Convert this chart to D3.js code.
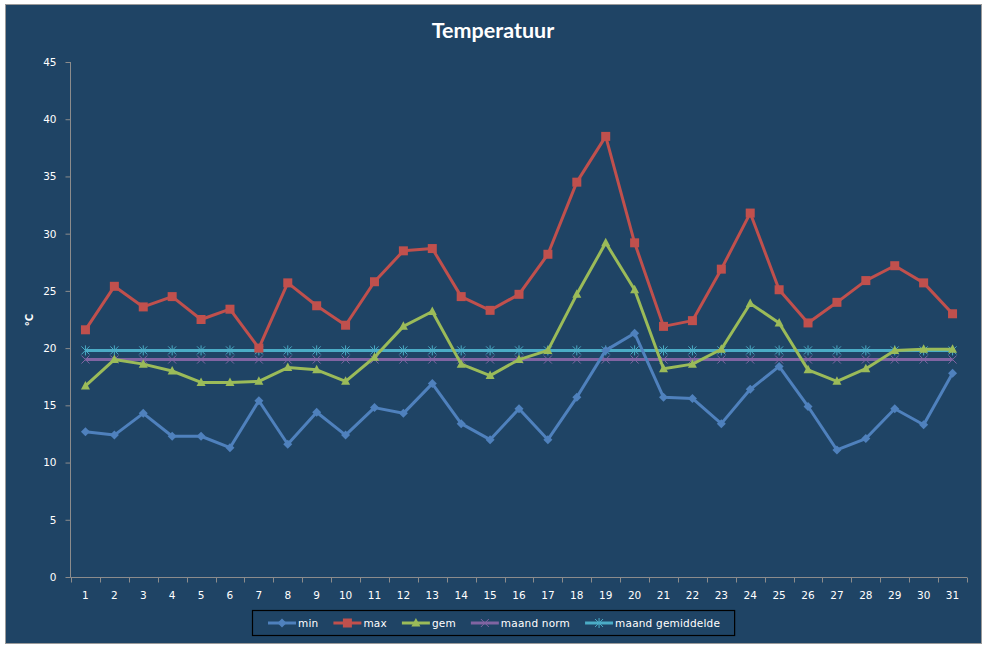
<!DOCTYPE html>
<html>
<head>
<meta charset="utf-8">
<script src="https://cdn.jsdelivr.net/npm/d3@7"></script>
<style>
  body { margin: 0; background: #ffffff; }
  svg { display: block; }
  .tick text { fill: #ffffff; font-family: "DejaVu Sans", Verdana, sans-serif; font-size: 10.5px; }
</style>
</head>
<body>
<svg id="chart" width="987" height="648"></svg>
<script>
// day numbers on the x axis
const days = [1,2,3,4,5,6,7,8,9,10,11,12,13,14,15,16,17,18,19,20,21,22,23,24,25,26,27,28,29,30,31];

// daily values (°C)
const minTemp = [12.7,12.4,14.3,12.3,12.3,11.3,15.4,11.6,14.4,12.4,14.8,14.3,16.9,13.4,12.0,14.7,12.0,15.7,19.8,21.3,15.7,15.6,13.4,16.4,18.4,14.9,11.1,12.1,14.7,13.3,17.8];
const maxTemp = [21.6,25.4,23.6,24.5,22.5,23.4,20.0,25.7,23.7,22.0,25.8,28.5,28.7,24.5,23.3,24.7,28.2,34.5,38.5,29.2,21.9,22.4,26.9,31.8,25.1,22.2,24.0,25.9,27.2,25.7,23.0];
const gemTemp = [16.7,19.0,18.6,18.0,17.0,17.0,17.1,18.3,18.1,17.1,19.2,21.9,23.2,18.6,17.6,19.0,19.8,24.7,29.2,25.1,18.2,18.6,19.9,23.9,22.2,18.1,17.1,18.2,19.8,19.9,19.9];
const maandNorm = [19.0,19.0,19.0,19.0,19.0,19.0,19.0,19.0,19.0,19.0,19.0,19.0,19.0,19.0,19.0,19.0,19.0,19.0,19.0,19.0,19.0,19.0,19.0,19.0,19.0,19.0,19.0,19.0,19.0,19.0,19.0];
const maandGem = [19.8,19.8,19.8,19.8,19.8,19.8,19.8,19.8,19.8,19.8,19.8,19.8,19.8,19.8,19.8,19.8,19.8,19.8,19.8,19.8,19.8,19.8,19.8,19.8,19.8,19.8,19.8,19.8,19.8,19.8,19.8];

// y tick labels
const yTicks = [0,5,10,15,20,25,30,35,40,45];

const seriesNames = ["min", "max", "gem", "maand norm", "maand gemiddelde"];
const seriesColors = ["#4f81bd", "#c0504d", "#9bbb59", "#8064a2", "#4bacc6"];
const seriesMarkers = ["diamond", "square", "triangle", "cross", "star"];
const seriesValues = [minTemp, maxTemp, gemTemp, maandNorm, maandGem];

const svg = d3.select("#chart");
const BG = "#1f4465";
const AXIS = "#8c8c8c";

// chart area background with thin grey border
svg.append("rect")
    .attr("x", 5.5).attr("y", 4.5)
    .attr("width", 976).attr("height", 639)
    .attr("fill", BG)
    .attr("stroke", "#9a9a9a")
    .attr("stroke-width", 1);

const plot = {left: 71, right: 967, top: 62, bottom: 577};

const x = d3.scaleBand()
    .domain(days)
    .range([plot.left, plot.right]);

const y = d3.scaleLinear()
    .domain([0, 45])
    .range([plot.bottom, plot.top]);

// title
svg.append("text")
    .attr("x", 493).attr("y", 38)
    .attr("text-anchor", "middle")
    .attr("fill", "#ffffff")
    .style("font-family", "Lato, 'Open Sans', sans-serif")
    .style("font-weight", "bold")
    .style("font-size", "21.5px")
    .text("Temperatuur");

// y axis title
svg.append("text")
    .attr("transform", "translate(33,320) rotate(-90)")
    .attr("text-anchor", "middle")
    .attr("fill", "#ffffff")
    .style("font-family", "'DejaVu Sans', sans-serif")
    .style("font-weight", "bold")
    .style("font-size", "10px")
    .text("°C");

// y axis
const yAxis = svg.append("g")
    .attr("transform", `translate(${plot.left - 0.5},0)`)
    .call(d3.axisLeft(y).tickValues(yTicks).tickSize(5).tickPadding(9));

// x axis: ticks sit between the categories
const xAxis = svg.append("g")
    .attr("transform", `translate(0,${plot.bottom + 0.5})`)
    .call(d3.axisBottom(x).tickSize(0).tickPadding(14));

const boundaries = d3.range(days.length + 1).map(i => plot.left + i * x.step());
xAxis.selectAll(".boundary")
    .data(boundaries)
    .enter()
    .append("line")
    .attr("class", "boundary")
    .attr("x1", d => Math.round(d) + 0.5)
    .attr("x2", d => Math.round(d) + 0.5)
    .attr("y1", 0)
    .attr("y2", 5)
    .attr("stroke", AXIS);

yAxis.selectAll(".tick line").attr("stroke", AXIS);
yAxis.select(".domain").remove();
xAxis.select(".domain").remove();
svg.append("line")
    .attr("x1", plot.left - 0.5).attr("x2", plot.left - 0.5)
    .attr("y1", plot.top).attr("y2", plot.bottom + 0.5)
    .attr("stroke", AXIS);
svg.append("line")
    .attr("x1", plot.left - 0.5).attr("x2", plot.right)
    .attr("y1", plot.bottom + 0.5).attr("y2", plot.bottom + 0.5)
    .attr("stroke", AXIS);

/**
 * Appends one marker shape centred at (cx, cy)
 */
function drawMarker(g, type, cx, cy, color){
    if (type === "diamond") {
        g.append("path")
            .attr("d", `M${cx},${cy-4.5} L${cx+4.5},${cy} L${cx},${cy+4.5} L${cx-4.5},${cy} Z`)
            .attr("fill", color);
    } else if (type === "square") {
        g.append("rect")
            .attr("x", cx - 4.5).attr("y", cy - 4.5)
            .attr("width", 9).attr("height", 9)
            .attr("fill", color);
    } else if (type === "triangle") {
        g.append("path")
            .attr("d", `M${cx},${cy-5} L${cx+4.5},${cy+3.5} L${cx-4.5},${cy+3.5} Z`)
            .attr("fill", color);
    } else if (type === "cross") {
        g.append("path")
            .attr("d", `M${cx-4},${cy-4} L${cx+4},${cy+4} M${cx-4},${cy+4} L${cx+4},${cy-4}`)
            .attr("stroke", color).attr("stroke-width", 1).attr("fill", "none");
    } else if (type === "star") {
        g.append("path")
            .attr("d", `M${cx-4},${cy-4} L${cx+4},${cy+4} M${cx-4},${cy+4} L${cx+4},${cy-4} M${cx},${cy-5} L${cx},${cy+5}`)
            .attr("stroke", color).attr("stroke-width", 1).attr("fill", "none");
    }
}

const line = d3.line()
    .x((d, i) => x(days[i]) + x.bandwidth() / 2)
    .y(d => y(d));

// draw series back to front so min lies on top like the original
const order = [4, 3, 2, 1, 0];
order.forEach(function(s){
    const g = svg.append("g").attr("class", "series");
    g.append("path")
        .datum(seriesValues[s])
        .attr("d", line)
        .attr("fill", "none")
        .attr("stroke", seriesColors[s])
        .attr("stroke-width", 3)
        .attr("stroke-linejoin", "round");
    seriesValues[s].forEach(function(v, i){
        drawMarker(g, seriesMarkers[s], x(days[i]) + x.bandwidth() / 2, y(v), seriesColors[s]);
    });
});

// legend
const legend = svg.append("g").attr("class", "legend");
const legendFont = "'DejaVu Sans', Verdana, sans-serif";
const items = [];
let cursor = 0;
seriesNames.forEach(function(name, s){
    const it = legend.append("g");
    it.append("line")
        .attr("x1", 0).attr("x2", 28)
        .attr("y1", 0).attr("y2", 0)
        .attr("stroke", seriesColors[s])
        .attr("stroke-width", 3);
    drawMarker(it, seriesMarkers[s], 14, 0, seriesColors[s]);
    const t = it.append("text")
        .attr("x", 30).attr("y", 4)
        .attr("fill", "#ffffff")
        .style("font-family", legendFont)
        .style("font-size", "10.5px")
        .style("letter-spacing", "0.2px")
        .text(name);
    const w = 30 + t.node().getComputedTextLength();
    items.push({g: it, x: cursor});
    cursor += w + 15;
});
const legendW = cursor - 15 + 30;
const legendX = Math.round(493 - legendW / 2);
legend.insert("rect", ":first-child")
    .attr("x", legendX + 0.5).attr("y", 610.5)
    .attr("width", legendW).attr("height", 25)
    .attr("fill", BG)
    .attr("stroke", "#000000")
    .attr("stroke-width", 1.2);
items.forEach(function(it){
    it.g.attr("transform", `translate(${legendX + 16 + it.x},623)`);
});
</script>
</body>
</html>
